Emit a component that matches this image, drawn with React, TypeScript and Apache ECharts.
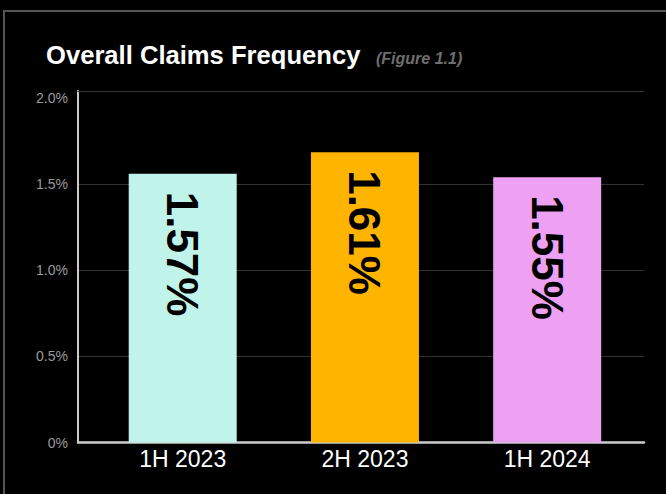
import React, { useEffect, useRef } from "react";
import * as echarts from "echarts";

const categories = ["1H 2023", "2H 2023", "1H 2024"];
const barValues = [1.56, 1.685, 1.54];
const valueLabels = ["1.57%", "1.61%", "1.55%"];
const barColors = ["#C0F4EB", "#FFB400", "#EEA0F2"];
const yMin = 0;
const yMax = 2.04;
const yInterval = 0.5;
const titleText = "Overall Claims Frequency";
const figureText = "(Figure 1.1)";

const FONT = "'Liberation Sans', Arial, Helvetica, sans-serif";

export default function App() {
  const ref = useRef<HTMLDivElement>(null);

  useEffect(() => {
    if (!ref.current) return;
    const chart = echarts.init(ref.current, undefined, { renderer: "svg" });
    const yTickLabel = (v: number) =>
      v > 2.001 ? "" : v === 0 ? "0%" : v.toFixed(1) + "%";

    chart.setOption({
      animation: false,
      backgroundColor: "#000000",
      title: [
        {
          text: titleText,
          left: 46,
          top: 41.5,
          padding: 0,
          textStyle: {
            color: "#ffffff",
            fontSize: 25.6,
            fontWeight: "bold",
            fontFamily: FONT,
          },
        },
        {
          text: figureText,
          left: 376,
          top: 50,
          padding: 0,
          textStyle: {
            color: "#6e6e6e",
            fontSize: 16,
            fontStyle: "italic",
            fontWeight: "bold",
            fontFamily: FONT,
          },
        },
      ],
      graphic: [
        {
          type: "rect",
          shape: { x: 4, y: 11, width: 720, height: 600 },
          style: { fill: "none", stroke: "#555555", lineWidth: 2 },
          silent: true,
        },
      ],
      grid: [
        { left: 78, right: 22, top: 91, bottom: 51.5 },
        { left: 91.6, right: 27.7, top: 91, bottom: 51.5 },
      ],
      xAxis: [
        {
          gridIndex: 0,
          type: "category",
          data: categories,
          position: "bottom",
          axisLine: { show: true, lineStyle: { color: "#cccccc", width: 2.5 } },
          axisTick: { show: false },
          axisLabel: { show: false },
          splitLine: { show: false },
        },
        {
          gridIndex: 0,
          type: "category",
          data: categories,
          position: "top",
          axisLine: { show: true, lineStyle: { color: "#333333", width: 1 } },
          axisTick: { show: false },
          axisLabel: { show: false },
          splitLine: { show: false },
        },
        {
          gridIndex: 1,
          type: "category",
          data: categories,
          position: "bottom",
          axisLine: { show: false },
          axisTick: { show: false },
          axisLabel: {
            color: "#ffffff",
            fontSize: 23,
            fontFamily: FONT,
            margin: 5,
          },
          splitLine: { show: false },
        },
      ],
      yAxis: [
        {
          gridIndex: 0,
          type: "value",
          min: yMin,
          max: yMax,
          interval: yInterval,
          axisLine: { show: true, lineStyle: { color: "#cccccc", width: 2 } },
          axisTick: { show: false },
          axisLabel: {
            color: "#9a9a9a",
            fontSize: 14,
            fontFamily: FONT,
            margin: 10,
            formatter: yTickLabel,
          },
          splitLine: {
            show: true,
            lineStyle: {
              color: ["#333333", "#333333", "#333333", "#333333", "transparent", "#333333"],
              width: 1,
            },
          },
        },
        {
          gridIndex: 1,
          type: "value",
          min: yMin,
          max: yMax,
          interval: yInterval,
          show: false,
        },
      ],
      series: [
        {
          type: "bar",
          xAxisIndex: 2,
          yAxisIndex: 1,
          barWidth: 108,
          data: barValues.map((v, i) => ({
            value: v,
            itemStyle: { color: barColors[i] },
          })),
          label: {
            show: true,
            position: "insideTop",
            distance: 18,
            rotate: -90,
            align: "left",
            verticalAlign: "middle",
            color: "#000000",
            fontSize: 44,
            fontWeight: "bold",
            fontFamily: FONT,
            formatter: (p: any) => valueLabels[p.dataIndex],
          },
        },
      ],
    });
    return () => chart.dispose();
  }, []);

  return (
    <div
      ref={ref}
      style={{
        position: "fixed",
        left: 0,
        top: 0,
        width: 666,
        height: 494,
        background: "#000",
      }}
    />
  );
}
